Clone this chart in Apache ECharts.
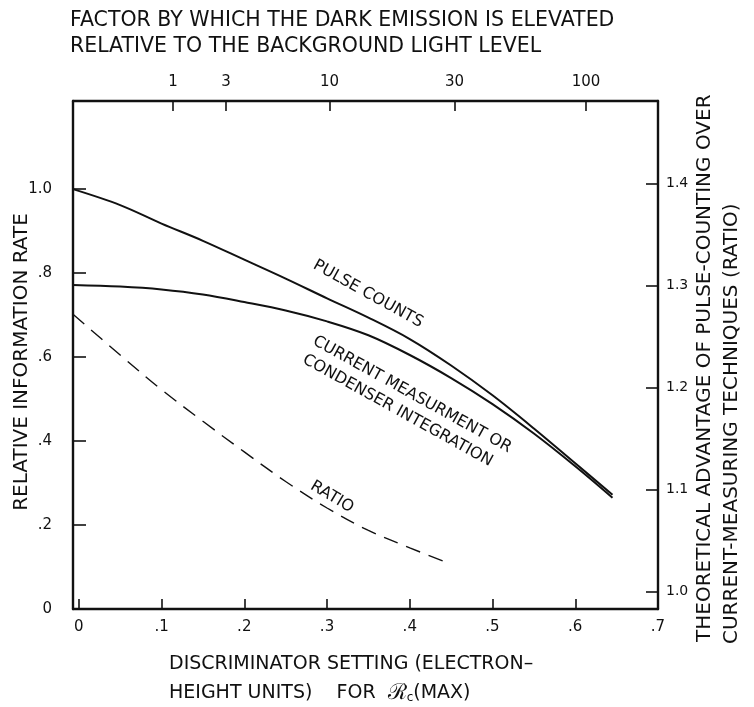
<!DOCTYPE html>
<html>
<head>
<meta charset="utf-8">
<script src="https://cdn.jsdelivr.net/npm/echarts@6/dist/echarts.min.js"></script>
<style>
  html, body { margin: 0; padding: 0; background: #fff; }
  #chart { width: 754px; height: 707px; }
</style>
</head>
<body>
<div id="chart"></div>
<script>
// Discriminator setting (electron-height units), shared by the two solid curves
const discSetting = [-0.007, 0.05, 0.1, 0.15, 0.2, 0.25, 0.3, 0.35, 0.4, 0.45, 0.5, 0.55, 0.6, 0.645];
// Relative information rate, pulse counting
const pulseCounts = [1.0, 0.962, 0.918, 0.877, 0.832, 0.787, 0.740, 0.694, 0.643, 0.580, 0.509, 0.430, 0.347, 0.272];
// Relative information rate, current measurement / condenser integration
const currentMeasurement = [0.772, 0.768, 0.761, 0.749, 0.731, 0.711, 0.685, 0.652, 0.605, 0.550, 0.488, 0.418, 0.340, 0.265];
// Advantage of pulse counting over current measuring (ratio, right-hand scale)
const ratioSetting = [-0.007, 0.05, 0.1, 0.15, 0.2, 0.25, 0.3, 0.35, 0.4, 0.44];
const ratioValues = [1.272, 1.232, 1.198, 1.167, 1.137, 1.108, 1.082, 1.060, 1.043, 1.030];

// Tick values and their printed labels
const bottomTicks = [0, 0.1, 0.2, 0.3, 0.4, 0.5, 0.6, 0.7];
const bottomTickLabels = ['0', '.1', '.2', '.3', '.4', '.5', '.6', '.7'];
const leftTicks = [0, 0.2, 0.4, 0.6, 0.8, 1.0];
const leftTickLabels = ['0', '.2', '.4', '.6', '.8', '1.0'];
const rightTicks = [1.0, 1.1, 1.2, 1.3, 1.4];
const rightTickLabels = ['1.0', '1.1', '1.2', '1.3', '1.4'];
// Dark-emission elevation factor marked along the discriminator scale
const topTickPos = [0.114, 0.178, 0.303, 0.454, 0.613];
const topTickLabels = ['1', '3', '10', '30', '100'];

function pair(xs, ys) { return xs.map((x, i) => [x, ys[i]]); }
function lookup(ticks, labels) {
  return function (v) {
    let best = 0;
    for (let i = 1; i < ticks.length; i++) {
      if (Math.abs(ticks[i] - v) < Math.abs(ticks[best] - v)) best = i;
    }
    return labels[best];
  };
}

const INK = '#111';
const FONT = 'DejaVu Sans';
const axisLineStyle = { show: true, onZero: false, lineStyle: { color: INK, width: 2.4 } };
const tickStyle = (len) => ({ show: true, inside: true, length: len, lineStyle: { color: INK, width: 1.6 } });
const labelBase = { color: INK, fontFamily: FONT, fontSize: 15 };

const chart = echarts.init(document.getElementById('chart'), null, { renderer: 'canvas' });

const option = {
  animation: false,
  backgroundColor: '#fff',
  grid: { left: 73, right: 96, top: 101, bottom: 98, containLabel: false },
  xAxis: [
    {
      type: 'value', position: 'bottom', min: -0.007, max: 0.7,
      axisLine: axisLineStyle,
      axisTick: Object.assign(tickStyle(10), { customValues: bottomTicks }),
      axisLabel: Object.assign({}, labelBase, { customValues: bottomTicks, margin: 11,
        formatter: lookup(bottomTicks, bottomTickLabels) }),
      splitLine: { show: false }
    },
    {
      type: 'value', position: 'top', min: -0.007, max: 0.7,
      axisLine: axisLineStyle,
      axisTick: Object.assign(tickStyle(10), { customValues: topTickPos }),
      axisLabel: Object.assign({}, labelBase, { customValues: topTickPos, margin: 11,
        formatter: lookup(topTickPos, topTickLabels) }),
      splitLine: { show: false }
    }
  ],
  yAxis: [
    {
      type: 'value', position: 'left', min: 0, max: 1.21,
      axisLine: axisLineStyle,
      axisTick: Object.assign(tickStyle(13), { customValues: leftTicks }),
      axisLabel: Object.assign({}, labelBase, { customValues: leftTicks, margin: 21,
        formatter: lookup(leftTicks, leftTickLabels) }),
      splitLine: { show: false }
    },
    {
      type: 'value', position: 'right', min: 0.983, max: 1.481,
      axisLine: axisLineStyle,
      axisTick: Object.assign(tickStyle(12), { customValues: rightTicks }),
      axisLabel: Object.assign({}, labelBase, { fontSize: 14, customValues: rightTicks, margin: 8,
        formatter: lookup(rightTicks, rightTickLabels) }),
      splitLine: { show: false }
    }
  ],
  series: [
    {
      name: 'PULSE COUNTS', type: 'line', xAxisIndex: 0, yAxisIndex: 0,
      data: pair(discSetting, pulseCounts), smooth: 0.35, showSymbol: false,
      lineStyle: { color: INK, width: 2 }
    },
    {
      name: 'CURRENT MEASURMENT OR CONDENSER INTEGRATION', type: 'line', xAxisIndex: 0, yAxisIndex: 0,
      data: pair(discSetting, currentMeasurement), smooth: 0.35, showSymbol: false,
      lineStyle: { color: INK, width: 2 }
    },
    {
      name: 'RATIO', type: 'line', xAxisIndex: 0, yAxisIndex: 1,
      data: pair(ratioSetting, ratioValues), smooth: 0.35, showSymbol: false,
      lineStyle: { color: INK, width: 1.4, type: [15, 9] }
    }
  ],
  graphic: [
    { type: 'text', x: 70, y: 21,
      style: { text: 'FACTOR BY WHICH THE DARK EMISSION IS ELEVATED', fill: INK, font: '20.5px "DejaVu Sans"', align: 'left', verticalAlign: 'middle' } },
    { type: 'text', x: 70, y: 47,
      style: { text: 'RELATIVE TO THE BACKGROUND LIGHT LEVEL', fill: INK, font: '20.5px "DejaVu Sans"', align: 'left', verticalAlign: 'middle' } },
    { type: 'text', x: 22, y: 362, rotation: Math.PI / 2,
      style: { text: 'RELATIVE INFORMATION RATE', fill: INK, font: '20px "DejaVu Sans"', align: 'center', verticalAlign: 'middle' } },
    { type: 'text', x: 705, y: 642, rotation: Math.PI / 2,
      style: { text: 'THEORETICAL ADVANTAGE OF PULSE-COUNTING OVER', fill: INK, font: '20px "DejaVu Sans"', align: 'left', verticalAlign: 'middle' } },
    { type: 'text', x: 732, y: 644, rotation: Math.PI / 2,
      style: { text: 'CURRENT-MEASURING TECHNIQUES (RATIO)', fill: INK, font: '20px "DejaVu Sans"', align: 'left', verticalAlign: 'middle' } },
    { type: 'text', x: 169, y: 664,
      style: { text: 'DISCRIMINATOR SETTING (ELECTRON–', fill: INK, font: '19px "DejaVu Sans"', align: 'left', verticalAlign: 'middle' } },
    { type: 'text', x: 169, y: 693,
      style: { text: 'HEIGHT UNITS)    FOR  {r|ℛ}{s|c}(MAX)', fill: INK, font: '19px "DejaVu Sans"', align: 'left', verticalAlign: 'middle',
        rich: { r: { font: '22px "DejaVu Serif"', fill: INK }, s: { font: '12px "DejaVu Sans"', fill: INK, padding: [9, 0, 0, 0] } } } },
    { type: 'text', x: 368, y: 294, rotation: -29 * Math.PI / 180,
      style: { text: 'PULSE COUNTS', fill: INK, font: '16px "DejaVu Sans"', align: 'center', verticalAlign: 'middle' } },
    { type: 'text', x: 319, y: 331, rotation: -29 * Math.PI / 180,
      style: { text: 'CURRENT MEASURMENT OR\nCONDENSER INTEGRATION', fill: INK, font: '16px "DejaVu Sans"', align: 'left', verticalAlign: 'top', lineHeight: 21 } },
    { type: 'text', x: 332, y: 497, rotation: -31 * Math.PI / 180,
      style: { text: 'RATIO', fill: INK, font: '16px "DejaVu Sans"', align: 'center', verticalAlign: 'middle' } }
  ]
};

chart.setOption(option);
</script>
</body>
</html>
